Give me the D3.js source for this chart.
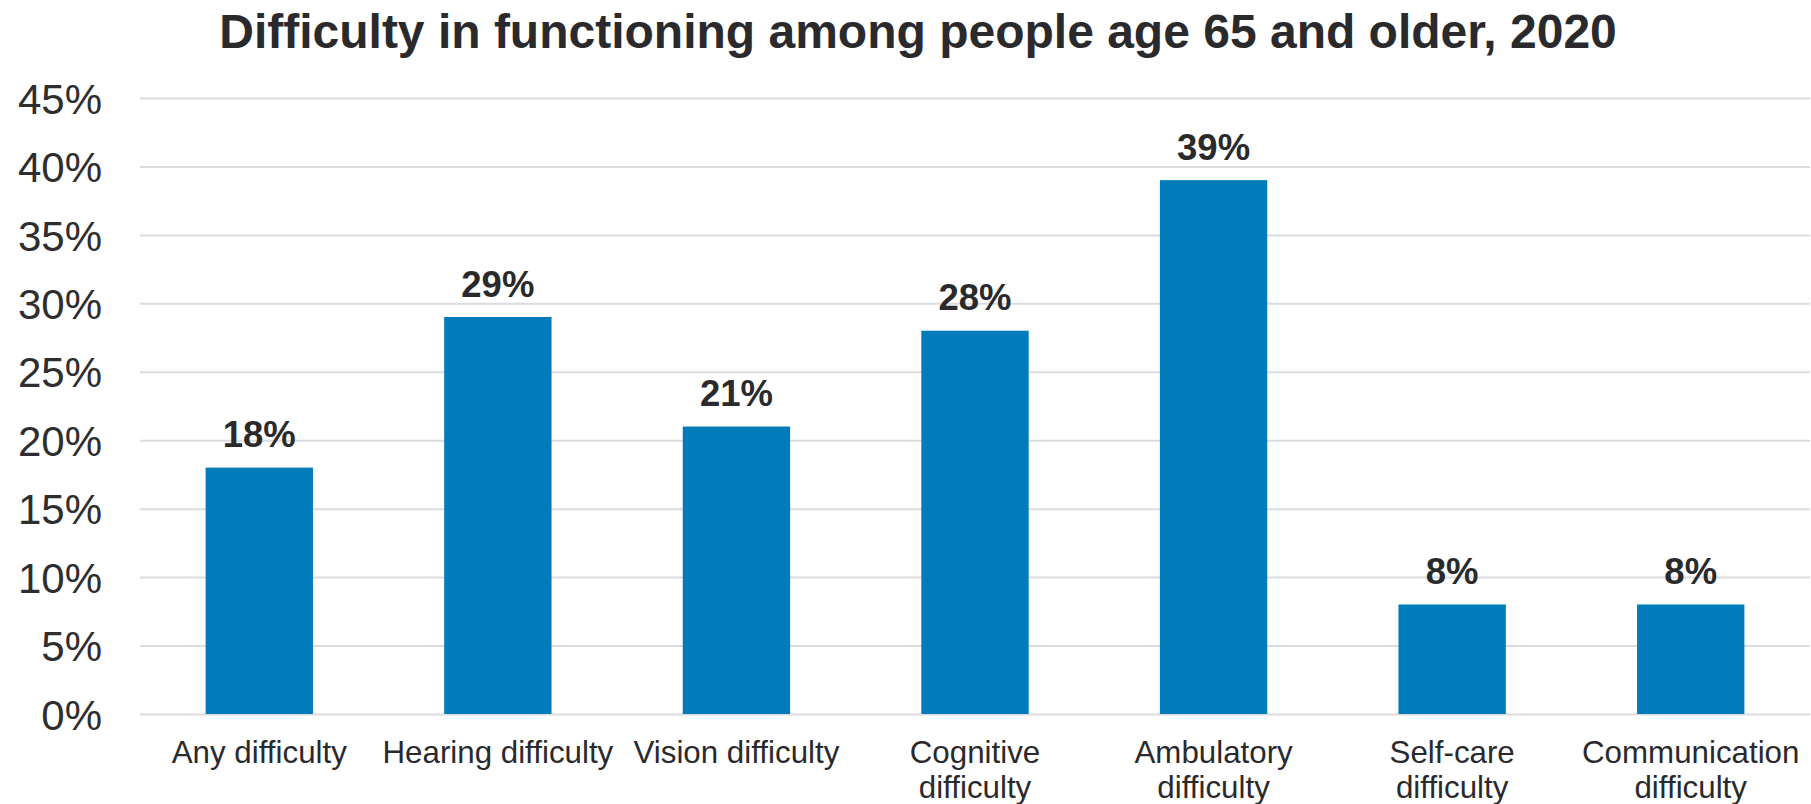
<!DOCTYPE html>
<html>
<head>
<meta charset="utf-8">
<script src="https://cdn.jsdelivr.net/npm/d3@7"></script>
<style>
  html, body { margin: 0; padding: 0; background: #ffffff; }
  svg { display: block; font-family: "Liberation Sans", Arial, sans-serif; }
</style>
</head>
<body>
<svg id="chart" width="1811" height="804"></svg>
<script>
const title = "Difficulty in functioning among people age 65 and older, 2020";
const categories = ["Any difficulty", "Hearing difficulty", "Vision difficulty", "Cognitive difficulty",
                    "Ambulatory difficulty", "Self-care difficulty", "Communication difficulty"];
const values = [18, 29, 21, 28, 39, 8, 8];
const yTicks = [0, 5, 10, 15, 20, 25, 30, 35, 40, 45];

const svg = d3.select("#chart");
const margin = { left: 140, right: 1, top: 98, bottom: 90 };
const W = 1811, H = 804;
const plotBottom = 714;

const x = d3.scaleBand()
  .domain(categories)
  .range([margin.left, W - margin.right])
  .paddingInner(0.55)
  .paddingOuter(0.275);

const y = d3.scaleLinear()
  .domain([0, 45])
  .range([plotBottom, margin.top]);

// Title
svg.append("text")
  .attr("x", 918)
  .attr("y", 48)
  .attr("text-anchor", "middle")
  .attr("font-size", 48)
  .attr("font-weight", "bold")
  .attr("fill", "#2a2a2d")
  .text(title);

// Gridlines + y tick labels
const yAxis = d3.axisLeft(y)
  .tickValues(yTicks)
  .tickSize(-(W - margin.right - margin.left))
  .tickPadding(38)
  .tickFormat(d => d + "%");

const gy = svg.append("g")
  .attr("transform", `translate(${margin.left},0)`)
  .call(yAxis);
gy.select(".domain").remove();
gy.selectAll(".tick line").attr("stroke", "#dcdce0").attr("stroke-width", 2);
gy.selectAll(".tick text")
  .attr("font-size", 42)
  .attr("fill", "#2e2e31")
  .attr("font-family", "'Liberation Sans', Arial, sans-serif")
  .attr("dy", "0.36em");

// Bars
svg.append("g").selectAll("rect")
  .data(values)
  .join("rect")
  .attr("x", (d, i) => x(categories[i]))
  .attr("width", x.bandwidth())
  .attr("y", d => y(d))
  .attr("height", d => y(0) - y(d))
  .attr("fill", "#007cba");

// Value labels
svg.append("g").selectAll("text")
  .data(values)
  .join("text")
  .attr("x", (d, i) => x(categories[i]) + x.bandwidth() / 2)
  .attr("y", d => y(d) - 20.5)
  .attr("text-anchor", "middle")
  .attr("font-size", 36.5)
  .attr("font-weight", "bold")
  .attr("fill", "#2a2a2d")
  .text(d => d + "%");

// Category labels (wrapped to band step width)
const xAxis = d3.axisBottom(x).tickSize(0).tickPadding(0);
const gx = svg.append("g")
  .attr("transform", `translate(0,${plotBottom})`)
  .call(xAxis);
gx.select(".domain").remove();
const maxW = x.step() - 3;
gx.selectAll(".tick text")
  .attr("font-size", 31.3)
  .attr("fill", "#2a2a2d")
  .attr("font-family", "'Liberation Sans', Arial, sans-serif")
  .attr("y", 0)
  .attr("dy", null)
  .each(function(d) {
    const t = d3.select(this);
    const words = d.split(" ");
    t.text(null);
    let lines = [];
    let line = [];
    const probe = t.append("tspan");
    words.forEach(w => {
      line.push(w);
      probe.text(line.join(" "));
      if (probe.node().getComputedTextLength() > maxW && line.length > 1) {
        line.pop();
        lines.push(line.join(" "));
        line = [w];
      }
    });
    lines.push(line.join(" "));
    probe.remove();
    lines.forEach((l, i) => {
      t.append("tspan")
        .attr("x", 0)
        .attr("y", 49 + i * 35)
        .text(l);
    });
  });
</script>
</body>
</html>
